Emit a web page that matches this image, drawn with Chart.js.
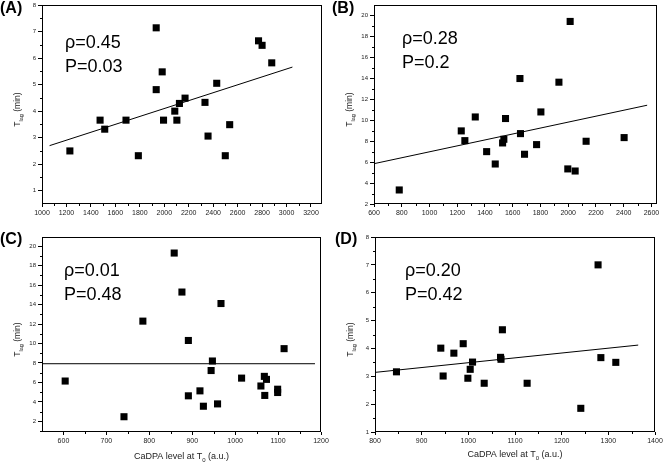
<!DOCTYPE html>
<html>
<head>
<meta charset="utf-8">
<script src="https://cdn.jsdelivr.net/npm/chart.js@4/dist/chart.umd.min.js"></script>
<style>
html, body { margin: 0; padding: 0; background: #fff; }
#wrap { position: relative; width: 664px; height: 463px; }
canvas { position: absolute; }
</style>
</head>
<body>
<div id="wrap">
  <canvas id="pa" width="332" height="232" style="left:0;top:0"></canvas>
  <canvas id="pb" width="332" height="232" style="left:332px;top:0"></canvas>
  <canvas id="pc" width="332" height="231" style="left:0;top:232px"></canvas>
  <canvas id="pd" width="332" height="231" style="left:332px;top:232px"></canvas>
</div>
<script>
// panel A
const aX = [1228, 1475, 1513, 1687, 1788, 1934, 1934, 1983, 1994, 2086, 2103, 2124, 2170, 2333, 2358, 2429, 2535, 2499, 2771, 2800, 2879];
const aY = [2.50, 3.66, 3.32, 3.66, 2.32, 7.14, 4.81, 5.48, 3.66, 4.00, 3.66, 4.29, 4.49, 4.33, 3.06, 5.05, 3.49, 2.32, 6.65, 6.48, 5.82];
const aFitX = [1062, 3048];
const aFitY = [2.70, 5.66];
const aXTicks = [1000, 1200, 1400, 1600, 1800, 2000, 2200, 2400, 2600, 2800, 3000, 3200];
const aYTicks = [1, 2, 3, 4, 5, 6, 7, 8];

// panel B
const bX = [782, 1229, 1255, 1330, 1412, 1474, 1527, 1536, 1548, 1652, 1656, 1685, 1772, 1803, 1933, 1997, 2014, 2050, 2129, 2403];
const bY = [3.34, 8.98, 8.05, 10.31, 7.0, 5.82, 7.83, 8.18, 10.16, 13.98, 8.72, 6.75, 7.67, 10.79, 13.63, 5.35, 19.43, 5.15, 7.99, 8.34];
const bFitX = [600, 2569];
const bFitY = [5.85, 11.43];
const bXTicks = [600, 800, 1000, 1200, 1400, 1600, 1800, 2000, 2200, 2400, 2600];
const bYTicks = [2, 4, 6, 8, 10, 12, 14, 16, 18, 20];

// panel C
const cX = [604, 741, 785, 858, 876, 891, 891, 918, 926, 944, 947, 959, 967, 1015, 1060, 1068, 1069, 1073, 1099, 1099, 1114];
const cY = [6.14, 2.47, 12.30, 19.30, 15.29, 10.31, 4.62, 5.13, 3.55, 7.22, 8.20, 3.79, 14.11, 6.44, 5.63, 6.62, 4.66, 6.31, 5.30, 4.96, 9.47];
const cFitX = [550, 1186];
const cFitY = [7.92, 7.92];
const cXTicks = [600, 700, 800, 900, 1000, 1100, 1200];
const cYTicks = [2, 4, 6, 8, 10, 12, 14, 16, 18, 20];

// panel D
const dX = [846, 941, 946, 969, 989, 999, 1004, 1009, 1034, 1069, 1070, 1073, 1126, 1241, 1278, 1284, 1316];
const dY = [3.16, 4.01, 3.01, 3.83, 4.17, 2.93, 3.25, 3.51, 2.75, 3.68, 3.61, 4.67, 2.75, 1.85, 7.0, 3.67, 3.50];
const dFitX = [800, 1364];
const dFitY = [3.14, 4.12];
const dXTicks = [800, 900, 1000, 1100, 1200, 1300, 1400];
const dYTicks = [1, 2, 3, 4, 5, 6, 7, 8];

Chart.defaults.font.family = "'Liberation Sans', Arial, sans-serif";
Chart.defaults.color = '#222';

const FONT = "'Liberation Sans', Arial, sans-serif";

const pairs = (xs, ys) => xs.map((x, i) => ({ x: x, y: ys[i] }));

const minors = (ticks, min, max) => {
  let out = [];
  const step = ticks[1] - ticks[0];
  out.push(ticks[0] - step / 2);
  for (let i = 0; i < ticks.length; i++) out.push(ticks[i] + step / 2);
  return out.filter(v => v > min && v < max);
};

const decor = {
  id: 'decor',
  afterDraw(chart, args, o) {
    const { ctx, chartArea: a } = chart;
    const x = chart.scales.x, y = chart.scales.y;
    ctx.save();
    ctx.strokeStyle = '#000';
    ctx.lineWidth = 1;
    ctx.strokeRect(a.left + 0.5, a.top + 0.5, a.right - a.left - 1, a.bottom - a.top - 1);

    // minor ticks
    ctx.beginPath();
    minors(o.xTicks, x.min, x.max).forEach(v => {
      const px = Math.round(x.getPixelForValue(v)) + 0.5;
      ctx.moveTo(px, a.bottom);
      ctx.lineTo(px, a.bottom + 2);
    });
    minors(o.yTicks, y.min, y.max).forEach(v => {
      const py = Math.round(y.getPixelForValue(v)) + 0.5;
      ctx.moveTo(a.left, py);
      ctx.lineTo(a.left - 2, py);
    });
    ctx.stroke();

    ctx.fillStyle = '#000';
    // panel letter
    ctx.font = 'bold 16px ' + FONT;
    ctx.textBaseline = 'middle';
    ctx.textAlign = 'left';
    ctx.fillText(o.label, o.labelPos[0], o.labelPos[1]);

    // stats
    ctx.font = '18px ' + FONT;
    ctx.fillText(o.stats[0], o.statsPos[0], o.statsPos[1]);
    ctx.fillText(o.stats[1], o.statsPos[0], o.statsPos[1] + 24);

    // y title, T with subscript lag
    ctx.fillStyle = '#222';
    const big = '8.5px ' + FONT, small = '5.5px ' + FONT;
    ctx.font = big;
    const wT = ctx.measureText('T').width;
    const wM = ctx.measureText(' (min)').width;
    ctx.font = small;
    const wL = ctx.measureText('lag').width;
    const tot = wT + wL + wM;
    ctx.translate(a.left - 24, (a.top + a.bottom) / 2 + 5);
    ctx.rotate(-Math.PI / 2);
    let cx = -tot / 2;
    ctx.font = big;
    ctx.fillText('T', cx, 0);
    cx += wT;
    ctx.font = small;
    ctx.fillText('lag', cx, 3);
    cx += wL;
    ctx.font = big;
    ctx.fillText(' (min)', cx, 0);
    ctx.setTransform(1, 0, 0, 1, 0, 0);

    // x title
    if (o.xTitle) {
      const f1 = '9px ' + FONT, f2 = '6px ' + FONT;
      ctx.font = f1;
      const w1 = ctx.measureText('CaDPA level at T').width;
      const w3 = ctx.measureText(' (a.u.)').width;
      ctx.font = f2;
      const w2 = ctx.measureText('0').width;
      let sx = (a.left + a.right) / 2 - (w1 + w2 + w3) / 2;
      const sy = o.xTitleY;
      ctx.font = f1;
      ctx.fillText('CaDPA level at T', sx, sy);
      sx += w1;
      ctx.font = f2;
      ctx.fillText('0', sx, sy + 3);
      sx += w2;
      ctx.font = f1;
      ctx.fillText(' (a.u.)', sx, sy);
    }
    ctx.restore();
  }
};

function makePanel(id, xs, ys, fx, fy, xTicks, yTicks, p) {
  const cv = document.getElementById(id);
  const W = cv.width, H = cv.height;
  const fix = (fn) => (s) => {
    fn(s);
    s.paddingLeft = 0; s.paddingRight = 0; s.paddingTop = 0; s.paddingBottom = 0;
  };
  new Chart(cv, {
    type: 'scatter',
    data: {
      datasets: [{
        data: pairs(xs, ys),
        pointStyle: 'rect',
        pointRadius: 5,
        pointHoverRadius: 5,
        backgroundColor: '#000',
        borderWidth: 0
      }, {
        data: pairs(fx, fy),
        showLine: true,
        pointRadius: 0,
        borderColor: '#000',
        borderWidth: 1
      }]
    },
    options: {
      responsive: false,
      animation: false,
      events: [],
      layout: { padding: { left: 0, top: p.area[1], right: W - p.area[2], bottom: 0 } },
      plugins: {
        legend: { display: false },
        tooltip: { enabled: false },
        decor: {
          xTicks: xTicks, yTicks: yTicks,
          label: p.label, labelPos: p.labelPos,
          stats: p.stats, statsPos: p.statsPos,
          xTitle: p.xTitle, xTitleY: p.xTitleY
        }
      },
      scales: {
        x: {
          type: 'linear',
          min: p.xr[0], max: p.xr[1],
          afterBuildTicks: (s) => { s.ticks = xTicks.map(v => ({ value: v })); },
          afterFit: fix((s) => { s.height = H - p.area[3]; }),
          grid: { drawOnChartArea: false, drawTicks: true, tickLength: 3, color: '#000', lineWidth: 1 },
          border: { display: false },
          ticks: { font: { size: 7 }, padding: 2, maxRotation: 0, autoSkip: false, color: '#222',
                   callback: (v) => String(v) }
        },
        y: {
          type: 'linear',
          min: p.yr[0], max: p.yr[1],
          afterBuildTicks: (s) => { s.ticks = yTicks.map(v => ({ value: v })); },
          afterFit: fix((s) => { s.width = p.area[0]; }),
          grid: { drawOnChartArea: false, drawTicks: true, tickLength: 4, color: '#000', lineWidth: 1 },
          border: { display: false },
          ticks: { font: { size: 6 }, padding: 2, autoSkip: false, color: '#222',
                   callback: (v) => String(v) }
        }
      }
    },
    plugins: [decor]
  });
}

makePanel('pa', aX, aY, aFitX, aFitY, aXTicks, aYTicks, {
  xr: [1000, 3290], yr: [0.5, 8], area: [42, 5, 322, 204],
  label: '(A)', labelPos: [0, 9], stats: ['\u03c1=0.45', 'P=0.03'], statsPos: [65, 43]
});
makePanel('pb', bX, bY, bFitX, bFitY, bXTicks, bYTicks, {
  xr: [600, 2640], yr: [2, 21], area: [42, 5, 325, 204],
  label: '(B)', labelPos: [0, 9], stats: ['\u03c1=0.28', 'P=0.2'], statsPos: [70, 39]
});
makePanel('pc', cX, cY, cFitX, cFitY, cXTicks, cYTicks, {
  xr: [550, 1200], yr: [0.9, 20.95], area: [42, 2, 321, 200],
  label: '(C)', labelPos: [0, 8], stats: ['\u03c1=0.01', 'P=0.48'], statsPos: [64, 39],
  xTitle: true, xTitleY: 225
});
makePanel('pd', dX, dY, dFitX, dFitY, dXTicks, dYTicks, {
  xr: [800, 1400], yr: [1, 8], area: [43, 1, 323, 200],
  label: '(D)', labelPos: [3, 8], stats: ['\u03c1=0.20', 'P=0.42'], statsPos: [73, 39],
  xTitle: true, xTitleY: 223
});
</script>
</body>
</html>
